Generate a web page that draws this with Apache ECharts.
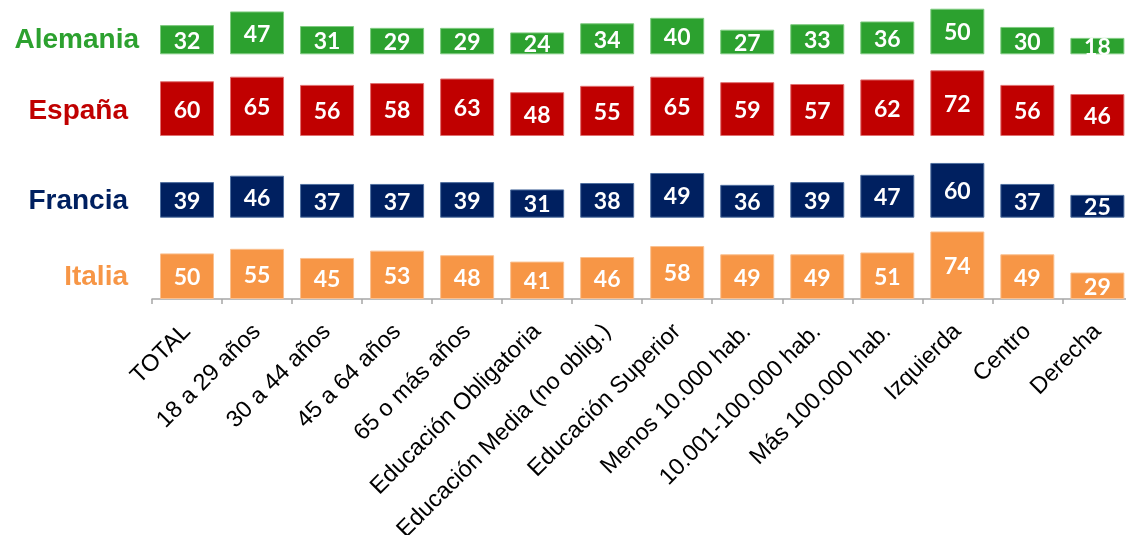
<!DOCTYPE html>
<html>
<head>
<meta charset="utf-8">
<script src="https://cdn.jsdelivr.net/npm/echarts@6/dist/echarts.min.js"></script>
<style>
html,body{margin:0;padding:0;background:#fff;}
#chart{width:1126px;height:535px;}
</style>
</head>
<body>
<div id="chart"></div>
<script>
const categories = ['TOTAL','18 a 29 años','30 a 44 años','45 a 64 años','65 o más años','Educación Obligatoria','Educación Media (no oblig.)','Educación Superior','Menos 10.000 hab.','10.001-100.000 hab.','Más 100.000 hab.','Izquierda','Centro','Derecha'];
const seriesNames = ['Alemania','España','Francia','Italia'];
const alemania = [32,47,31,29,29,24,34,40,27,33,36,50,30,18];
const espana   = [60,65,56,58,63,48,55,65,59,57,62,72,56,46];
const francia  = [39,46,37,37,39,31,38,49,36,39,47,60,37,25];
const italia   = [50,55,45,53,48,41,46,58,49,49,51,74,49,29];

const values = [alemania, espana, francia, italia];
const colors = ['#2CA12F','#C00000','#002060','#F79646'];
const borders = ['#7FCB80','#E07070','#5070A0','#FAC090'];
const gridTops = [0.5, 63, 144.7, 226];
const gridHeights = [53.8, 73, 73, 73];
const yMax = [59, 80, 80, 80];
const labelX = [139, 128, 128, 128];
const labelY = [40.5, 111, 201.5, 277.5];

const grids = [], xAxes = [], yAxes = [], series = [], graphics = [];
for (let i = 0; i < 4; i++) {
  grids.push({left:152, width:980.4, top:gridTops[i], height:gridHeights[i],
    outerBoundsMode:'none', containLabel:false});
  const last = i === 3;
  xAxes.push({
    type:'category', gridIndex:i, data:categories,
    axisLine:{show:last, lineStyle:{color:'#A6A6A6', width:1.5}},
    axisTick:{show:last, length:5, alignWithLabel:false, lineStyle:{color:'#A6A6A6', width:1.5}},
    axisLabel:{show:last, rotate:45, interval:0, margin:29, color:'#000',
      fontFamily:'Liberation Sans, Arial, sans-serif', fontSize:23.5, hideOverlap:false}
  });
  yAxes.push({type:'value', gridIndex:i, min:0, max:yMax[i], show:false, splitLine:{show:false}});
  series.push({
    type:'bar', name:seriesNames[i], xAxisIndex:i, yAxisIndex:i, data:values[i],
    barWidth:54, clip:false,
    itemStyle:{color:colors[i], borderColor:borders[i], borderWidth:1},
    label:{show:true, position:'inside', color:'#fff', fontWeight:'bold',
      fontFamily:'Lato, Open Sans, sans-serif', fontSize:23, offset:[0,1.5]}
  });
  graphics.push({
    type:'text', x:labelX[i], y:labelY[i],
    style:{text:seriesNames[i], fill:colors[i], font:'bold 28px "Liberation Sans", Arial, sans-serif',
      textAlign:'right', textVerticalAlign:'middle', align:'right', verticalAlign:'middle'}
  });
}

const chart = echarts.init(document.getElementById('chart'), null, {renderer:'canvas'});
chart.setOption({
  animation:false,
  backgroundColor:'#fff',
  grid:grids, xAxis:xAxes, yAxis:yAxes, series:series, graphic:graphics
});
</script>
</body>
</html>
